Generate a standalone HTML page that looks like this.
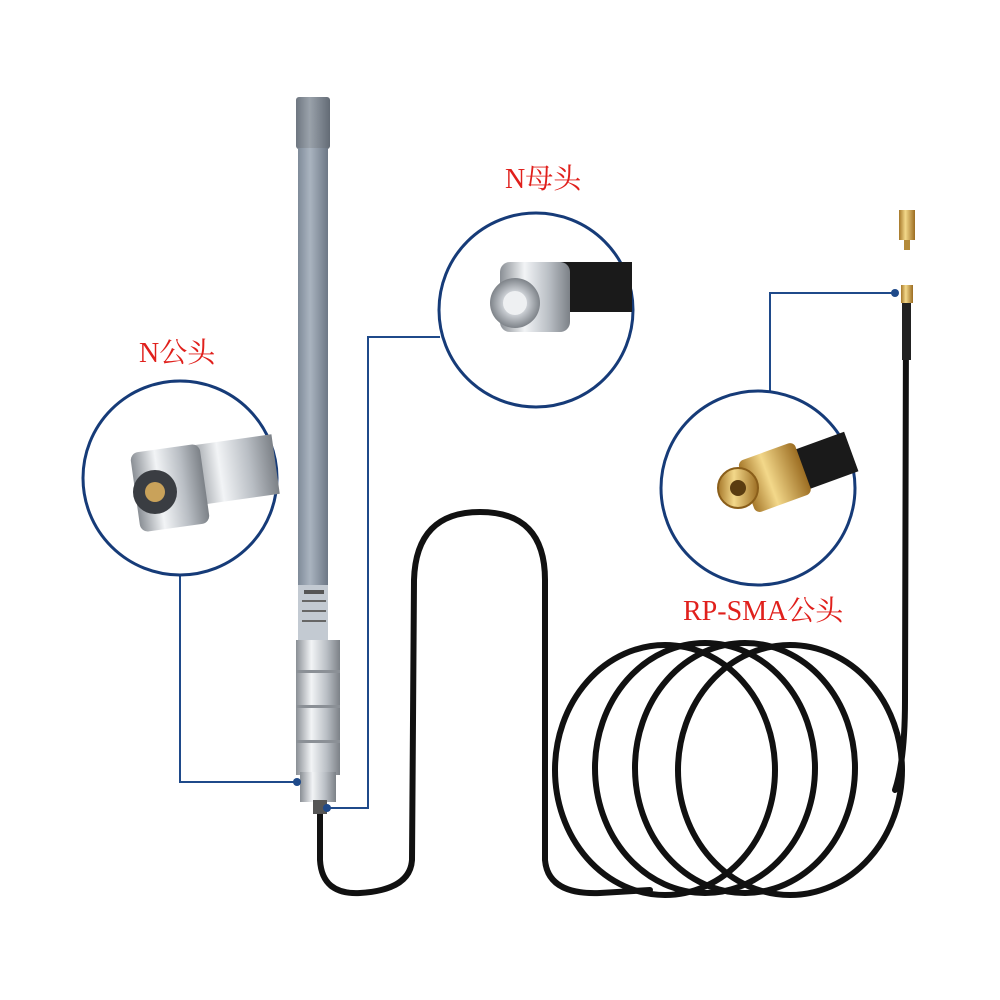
<!DOCTYPE html>
<html><head><meta charset="utf-8"><style>
html,body{margin:0;padding:0;background:#fff;width:1000px;height:1000px;overflow:hidden}
text{font-family:"Liberation Serif","Noto Serif CJK SC",serif;fill:#e0201c;font-size:28px}
</style></head><body>
<svg width="1000" height="1000" viewBox="0 0 1000 1000" xmlns="http://www.w3.org/2000/svg">
<defs>
<linearGradient id="tube" x1="0" x2="1"><stop offset="0" stop-color="#7f8b99"/><stop offset=".4" stop-color="#aab4c0"/><stop offset="1" stop-color="#6d7886"/></linearGradient>
<linearGradient id="cap" x1="0" x2="1"><stop offset="0" stop-color="#6e7680"/><stop offset=".4" stop-color="#9aa2ab"/><stop offset="1" stop-color="#636b75"/></linearGradient>
<linearGradient id="metal" x1="0" x2="1"><stop offset="0" stop-color="#8a8f95"/><stop offset=".35" stop-color="#f2f4f6"/><stop offset=".7" stop-color="#b9bec4"/><stop offset="1" stop-color="#7c8187"/></linearGradient>
<linearGradient id="gold" x1="0" x2="1"><stop offset="0" stop-color="#a6782a"/><stop offset=".4" stop-color="#f3d88a"/><stop offset="1" stop-color="#9c6d22"/></linearGradient>
<radialGradient id="ncon"><stop offset="0" stop-color="#f4f4f4"/><stop offset=".5" stop-color="#c9cdd2"/><stop offset="1" stop-color="#7e8389"/></radialGradient>
</defs>

<g fill="none" stroke="#111" stroke-width="6" stroke-linecap="round">
<path d="M320 812 L320 860 Q322 895 360 893 Q410 890 412 860 L414 580 Q416 512 480 512 Q545 512 545 580 L545 860 Q548 895 600 893 L650 890"/>
<ellipse cx="665" cy="770" rx="110" ry="125"/>
<ellipse cx="705" cy="768" rx="110" ry="125"/>
<ellipse cx="745" cy="768" rx="110" ry="125"/>
<ellipse cx="790" cy="770" rx="112" ry="125"/>
<path d="M895 790 Q905 760 905 700 L906 320"/>
</g>
<rect x="902" y="300" width="9" height="60" fill="#222"/>
<rect x="901" y="285" width="12" height="18" fill="url(#gold)"/>
<rect x="899" y="210" width="16" height="30" fill="url(#gold)"/>
<rect x="904" y="240" width="6" height="10" fill="#b48a3a"/>

<rect x="296" y="97" width="34" height="52" rx="3" fill="url(#cap)"/>
<rect x="298" y="148" width="30" height="440" fill="url(#tube)"/>
<rect x="298" y="585" width="30" height="55" fill="#c3cad2"/>
<rect x="304" y="590" width="20" height="4" fill="#555"/><rect x="302" y="600" width="24" height="2" fill="#666"/><rect x="302" y="610" width="24" height="2" fill="#666"/><rect x="302" y="620" width="24" height="2" fill="#666"/>
<rect x="296" y="640" width="44" height="135" fill="url(#metal)"/>
<rect x="296" y="670" width="44" height="3" fill="#8b9096"/>
<rect x="296" y="705" width="44" height="3" fill="#8b9096"/>
<rect x="296" y="740" width="44" height="3" fill="#8b9096"/>
<rect x="300" y="772" width="36" height="30" fill="url(#metal)"/>
<rect x="313" y="800" width="14" height="14" fill="#555"/>

<g fill="none" stroke="#1f4a8a" stroke-width="2">
<path d="M180 575 L180 782 L297 782"/>
<path d="M440 337 L368 337 L368 808 L327 808"/>
<path d="M770 392 L770 293 L895 293"/>
</g>
<g fill="#1f4a8a"><circle cx="297" cy="782" r="4"/><circle cx="327" cy="808" r="4"/><circle cx="895" cy="293" r="4"/></g>

<g stroke="#163b78" stroke-width="3" fill="#fff">
<circle cx="180" cy="478" r="97"/>
<circle cx="536" cy="310" r="97"/>
<circle cx="758" cy="488" r="97"/>
</g>
<rect x="190" y="440" width="86" height="60" fill="url(#metal)" transform="rotate(-8 233 470)"/>
<rect x="135" y="448" width="70" height="80" rx="8" fill="url(#metal)" transform="rotate(-8 170 488)"/>
<circle cx="155" cy="492" r="22" fill="#3a3d42"/><circle cx="155" cy="492" r="10" fill="#c9a25a"/>
<rect x="560" y="262" width="72" height="50" fill="#1a1a1a"/>
<rect x="500" y="262" width="70" height="70" rx="10" fill="url(#metal)"/>
<circle cx="515" cy="303" r="25" fill="url(#ncon)"/><circle cx="515" cy="303" r="12" fill="#eef0f2"/>
<rect x="790" y="442" width="64" height="42" fill="#1a1a1a" transform="rotate(-20 820 465)"/>
<rect x="745" y="450" width="60" height="55" rx="6" fill="url(#gold)" transform="rotate(-20 775 478)"/>
<circle cx="738" cy="488" r="20" fill="url(#gold)" stroke="#8a5e1a" stroke-width="2"/>
<circle cx="738" cy="488" r="8" fill="#5a3c10"/>

<text x="139" y="362">N公头</text>
<text x="505" y="188">N母头</text>
<text x="683" y="620">RP-SMA公头</text>
</svg>
</body></html>
